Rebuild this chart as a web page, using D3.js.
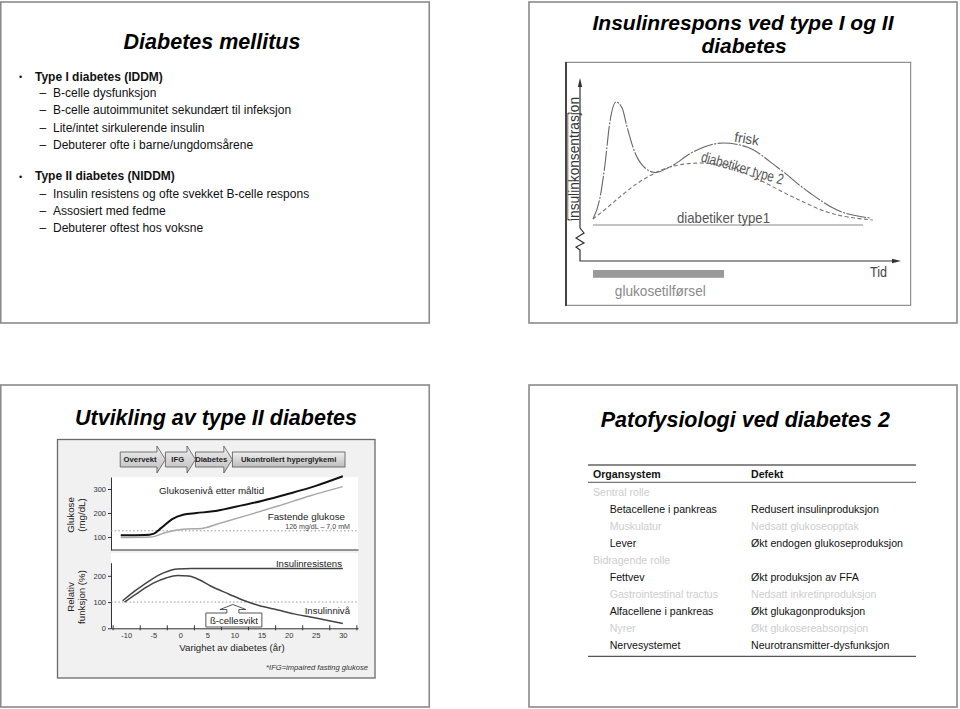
<!DOCTYPE html>
<html><head><meta charset="utf-8">
<script src="https://cdn.jsdelivr.net/npm/d3@7"></script>
<style>html,body{margin:0;padding:0;background:#fff;}svg{display:block;}</style>
</head><body>
<svg id="c" width="960" height="709"></svg>
<script>
// ---------- DATA ----------
// Slide 1
const slide1Title = "Diabetes mellitus";
const bulletHeads = ["Type I diabetes (IDDM)", "Type II diabetes (NIDDM)"];
const typeISub = ["B-celle dysfunksjon", "B-celle autoimmunitet sekundært til infeksjon", "Lite/intet sirkulerende insulin", "Debuterer ofte i barne/ungdomsårene"];
const typeIISub = ["Insulin resistens og ofte svekket B-celle respons", "Assosiert med fedme", "Debuterer oftest hos voksne"];

// Slide 2 (time 0-100, insulin concentration 0-100, arbitrary units)
const slide2Title = ["Insulinrespons ved type I og II", "diabetes"];
const friskCurve = [[0,8.1],[2.5,23.7],[4.3,48.1],[6.1,80.0],[8.3,94.8],[10.5,90.4],[12.3,76.3],[15.2,57.0],[18.8,45.9],[22.4,42.6],[27.8,46.7],[36.1,57.8],[46.9,64.4],[55.6,61.5],[66.4,46.7],[78.3,27.4],[88.1,14.8],[100,8.9]];
const type2Curve = [[0,8.1],[5.4,17.0],[10.5,25.9],[16.2,34.8],[22.4,42.2],[27.8,46.7],[38.6,49.6],[46.9,48.1],[57.8,39.3],[72.2,24.4],[84.5,13.3],[101,7.4]];
const type1Curve = [[0,3.7],[97.5,3.7]];
const glucoseInfusion = [0, 47.3];

// Slide 3
const slide3Title = "Utvikling av type II diabetes";
const stageLabels = ["Overvekt", "IFG", "Diabetes", "Ukontrollert hyperglykemi"];
const stageBounds = [-11.1, -2.75, 2.8, 9.6, 30.4];
const postMealGlucose = [[-11,107],[-6.5,108],[-5,113],[-3.5,138],[-1.5,175],[0.5,193],[3,200],[6,207],[10,225],[15,250],[20,280],[25,313],[30,353]];
const fastingGlucose = [[-11,98],[-5.5,100],[-2.5,120],[0.5,132],[4,136],[7,155],[12,188],[18,229],[24,272],[30,310]];
const fastingThreshold = 126;
const insulinResistance = [[-10.65,105],[-8,148],[-5.5,184],[-3,212],[-0.5,226],[2,227.5],[30,227.5]];
const insulinLevel = [[-10.3,100],[-7.5,140],[-5,172],[-2.5,193],[-0.5,201],[1.5,199],[3.5,185],[5.5,162],[9,130],[11.5,108],[14.5,87],[18,70],[21,55],[24,43],[27,31],[30,18]];
const functionRef = 100;
const betaFailureYear = 9.7;
const glucoseTicks = [100, 200, 300];
const functionTicks = [0, 100, 200];
const yearTicks = [-10, -5, 0, 5, 10, 15, 20, 25, 30];
const yearMinorTicks = [-12.5, -7.5, -2.5, 2.5, 7.5, 12.5, 17.5, 22.5, 27.5, 32.5];

// Slide 4
const slide4Title = "Patofysiologi ved diabetes 2";
const tableHeader = ["Organsystem", "Defekt"];
const organs = ["Sentral rolle", "Betacellene i pankreas", "Muskulatur", "Lever", "Bidragende rolle", "Fettvev", "Gastrointestinal tractus", "Alfacellene i pankreas", "Nyrer", "Nervesystemet"];
const defects = ["", "Redusert insulinproduksjon", "Nedsatt glukoseopptak", "Økt endogen glukoseproduksjon", "", "Økt produksjon av FFA", "Nedsatt inkretinproduksjon", "Økt glukagonproduksjon", "Økt glukosereabsorpsjon", "Neurotransmitter-dysfunksjon"];
const rowLevel = [0, 1, 1, 1, 0, 1, 1, 1, 1, 1];
const rowMuted = [true, false, true, false, true, false, true, false, true, false];

// ---------- DRAW ----------
const F = "'Liberation Sans', Arial, Helvetica, sans-serif";
const svg = d3.select("#c").style("font-family", F);

const defs = svg.append("defs");
const grad = defs.append("linearGradient").attr("id","bannerGrad").attr("x1",0).attr("y1",0).attr("x2",0).attr("y2",1);
grad.append("stop").attr("offset","0%").attr("stop-color","#f0f0f0");
grad.append("stop").attr("offset","100%").attr("stop-color","#bdbdbd");

// slide frames
const frames = [[0.75,2,428.5,321],[529,2,428,321],[0.75,385,428.5,322],[529,385,428,322]];
svg.selectAll("rect.frame").data(frames).join("rect").attr("class","frame")
  .attr("x",d=>d[0]).attr("y",d=>d[1]).attr("width",d=>d[2]).attr("height",d=>d[3])
  .attr("fill","#fff").attr("stroke","#8a8a8a").attr("stroke-width",1.6);

function title(x, y, txt, size){
  return svg.append("text").attr("x",x).attr("y",y).attr("text-anchor","middle")
    .attr("font-size",size||21.5).attr("font-weight","bold").attr("font-style","italic").attr("fill","#000").text(txt);
}

// ===== Slide 1 =====
title(212, 49.3, slide1Title);
const s1 = svg.append("g").attr("font-size",12).attr("fill","#111");
const headY = [80.7, 180.3];
const subLists = [typeISub, typeIISub];
const subY = [[97.3,114.3,131.7,149],[198,214.7,231.7]];
bulletHeads.forEach((h,i)=>{
  s1.append("text").attr("x",19).attr("y",headY[i]-0.5).attr("font-size",9).text("•");
  s1.append("text").attr("x",35).attr("y",headY[i]).attr("font-weight","bold").text(h);
  subLists[i].forEach((s,j)=>{
    s1.append("text").attr("x",39.5).attr("y",subY[i][j]).text("–");
    s1.append("text").attr("x",53).attr("y",subY[i][j]).text(s);
  });
});

// ===== Slide 2 =====
title(743, 29.5, slide2Title[0], 21);
title(744, 53.2, slide2Title[1], 21);

svg.append("rect").attr("x",566).attr("y",62.3).attr("width",344.7).attr("height",243)
  .attr("fill","#fff").attr("stroke","#777").attr("stroke-width",1);
svg.append("line").attr("x1",566).attr("x2",566).attr("y1",62).attr("y2",306).attr("stroke","#444").attr("stroke-width",2);

const x2 = d3.scaleLinear().domain([0,100]).range([593,870]);
const y2 = d3.scaleLinear().domain([0,100]).range([230,95]);
const g2 = svg.append("g");
// axes
g2.append("path").attr("d","M580,86 L580,228 L584,233 L576,238 L584,243 L576,247 L580,250 L580,261 L894,261")
  .attr("fill","none").attr("stroke","#333").attr("stroke-width",1.2);
g2.append("path").attr("d","M580,78 L577.8,87 L582.2,87 Z").attr("fill","#333");
g2.append("path").attr("d","M901,261 L892,258.8 L892,263.2 Z").attr("fill","#333");
// y label bracket
g2.append("path").attr("d","M572,113 L567.8,113 L567.8,220 L572,220").attr("fill","none").attr("stroke","#555").attr("stroke-width",0.9);
g2.append("text").attr("transform","translate(578.5,159) rotate(-90)").attr("text-anchor","middle")
  .attr("font-size",14.5).attr("fill","#333").attr("textLength",124).attr("lengthAdjust","spacingAndGlyphs").text("insulinkonsentrasjon");

const line2 = d3.line().x(d=>x2(d[0])).y(d=>y2(d[1])).curve(d3.curveMonotoneX);
g2.append("path").attr("d",line2(type1Curve)).attr("fill","none").attr("stroke","#888").attr("stroke-width",1);
g2.append("path").attr("d",line2(type2Curve)).attr("fill","none").attr("stroke","#777").attr("stroke-width",1.1).attr("stroke-dasharray","4,2.5");
g2.append("path").attr("d",line2(friskCurve)).attr("fill","none").attr("stroke","#666").attr("stroke-width",1.1).attr("stroke-dasharray","20,1.5,2,1.5");
// glucose infusion bar
g2.append("rect").attr("x",x2(glucoseInfusion[0])).attr("width",x2(glucoseInfusion[1])-x2(glucoseInfusion[0]))
  .attr("y",270).attr("height",7.8).attr("fill","#999");
g2.append("text").attr("x",660.3).attr("y",296).attr("text-anchor","middle").attr("font-size",14).attr("fill","#8a8a8a")
  .attr("textLength",91).attr("lengthAdjust","spacingAndGlyphs").text("glukosetilførsel");
g2.append("text").attr("x",878.5).attr("y",277).attr("text-anchor","middle").attr("font-size",14).attr("fill","#444")
  .attr("textLength",17).attr("lengthAdjust","spacingAndGlyphs").text("Tid");
g2.append("text").attr("x",723.5).attr("y",222.7).attr("text-anchor","middle").attr("font-size",15).attr("fill","#555")
  .attr("textLength",93).attr("lengthAdjust","spacingAndGlyphs").text("diabetiker type1");
g2.append("text").attr("transform","translate(746,143.5) rotate(9)").attr("text-anchor","middle").attr("font-size",14).attr("fill","#555")
  .attr("textLength",25).attr("lengthAdjust","spacingAndGlyphs").text("frisk");
g2.append("text").attr("transform","translate(741,173) rotate(16)").attr("text-anchor","middle").attr("font-size",15).attr("fill","#555")
  .attr("textLength",85).attr("lengthAdjust","spacingAndGlyphs").text("diabetiker type 2");

// ===== Slide 3 =====
title(216, 425, slide3Title);
svg.append("rect").attr("x",57.5).attr("y",439.5).attr("width",317.5).attr("height",238.5)
  .attr("fill","#f1f1f1").attr("stroke","#6a6a6a").attr("stroke-width",1.3);

const xS = d3.scaleLinear().domain([-12.8,32.8]).range([111,358]);
const yG = d3.scaleLinear().domain([46,350]).range([550,477]);
const yF = d3.scaleLinear().domain([0,250]).range([628.3,562.7]);
const g3 = svg.append("g");
g3.append("rect").attr("x",111).attr("y",477).attr("width",247).attr("height",72.5).attr("fill","#fff");
g3.append("rect").attr("x",111).attr("y",553).attr("width",247).attr("height",75.3).attr("fill","#fff");

// banner arrows
const bodyTop = 452, bodyBot = 467, headTop = 446, headBot = 473, head = 8.5;
stageLabels.forEach((lab,i)=>{
  const L = xS(stageBounds[i]), R = xS(stageBounds[i+1]);
  let d;
  if (i < stageLabels.length-1) {
    const br = R - head;
    d = `M${L},${bodyTop} L${br},${bodyTop} L${br},${headTop} L${R},${(bodyTop+bodyBot)/2} L${br},${headBot} L${br},${bodyBot} L${L},${bodyBot} Z`;
    g3.append("path").attr("d",d).attr("fill","url(#bannerGrad)").attr("stroke","#555").attr("stroke-width",0.8);
    g3.append("text").attr("x",(L+br)/2+1.5).attr("y",462.3).attr("text-anchor","middle").attr("font-size",7.7).attr("font-weight","bold").attr("fill","#222").text(lab);
  } else {
    g3.append("rect").attr("x",L).attr("y",bodyTop).attr("width",R-L).attr("height",bodyBot-bodyTop)
      .attr("fill","url(#bannerGrad)").attr("stroke","#555").attr("stroke-width",0.8);
    g3.append("text").attr("x",(L+R)/2).attr("y",462.3).attr("text-anchor","middle").attr("font-size",7.7).attr("font-weight","bold").attr("fill","#222").text(lab);
  }
});

function styleAxis(g){
  g.selectAll("path.domain").attr("stroke","#333");
  g.selectAll(".tick line").attr("stroke","#333");
  g.selectAll(".tick text").attr("font-size",7.5).attr("fill","#333").attr("font-family",F);
}
// top glucose axes
const ayG = g3.append("g").attr("transform","translate(111,0)")
  .call(d3.axisLeft(yG).tickValues(glucoseTicks).tickSize(3).tickSizeOuter(0).tickPadding(2));
styleAxis(ayG);
const axTop = g3.append("g").attr("transform","translate(0,549.5)").call(d3.axisBottom(xS).tickValues([]).tickSizeOuter(0));
styleAxis(axTop);
// bottom function axes
const ayF = g3.append("g").attr("transform","translate(111,0)")
  .call(d3.axisLeft(yF).tickValues(functionTicks).tickSize(3).tickSizeOuter(0).tickPadding(2));
styleAxis(ayF);
const axB = g3.append("g").attr("transform","translate(0,628.3)")
  .call(d3.axisBottom(xS).tickValues(yearMinorTicks).tickSizeInner(-3).tickSizeOuter(0).tickFormat(""));
styleAxis(axB);
axB.selectAll(".tick line").attr("y2",-3).attr("y1",2);
const axBL = g3.append("g").attr("transform","translate(0,628.3)")
  .call(d3.axisBottom(xS).tickValues(yearTicks).tickSize(0).tickPadding(4).tickFormat(d=>d));
styleAxis(axBL);
axBL.select("path.domain").remove();

// reference dotted lines
g3.append("line").attr("x1",111).attr("x2",357).attr("y1",yG(fastingThreshold)).attr("y2",yG(fastingThreshold))
  .attr("stroke","#8a8a8a").attr("stroke-width",0.9).attr("stroke-dasharray","1.5,2.2");
g3.append("line").attr("x1",111).attr("x2",357).attr("y1",yF(functionRef)).attr("y2",yF(functionRef))
  .attr("stroke","#8a8a8a").attr("stroke-width",0.9).attr("stroke-dasharray","1.5,2.2");

const lineG = d3.line().x(d=>xS(d[0])).y(d=>yG(d[1])).curve(d3.curveMonotoneX);
const lineF = d3.line().x(d=>xS(d[0])).y(d=>yF(d[1])).curve(d3.curveMonotoneX);
g3.append("path").attr("d",lineG(fastingGlucose)).attr("fill","none").attr("stroke","#a8a8a8").attr("stroke-width",1.5);
g3.append("path").attr("d",lineG(postMealGlucose)).attr("fill","none").attr("stroke","#111").attr("stroke-width",2);
g3.append("path").attr("d",lineF(insulinResistance)).attr("fill","none").attr("stroke","#444").attr("stroke-width",1.5);
g3.append("path").attr("d",lineF(insulinLevel)).attr("fill","none").attr("stroke","#444").attr("stroke-width",1.5);

// labels
const lab3 = (x,y,t,size,anchor)=>
  g3.append("text").attr("x",x).attr("y",y).attr("font-size",size).attr("text-anchor",anchor||"start").attr("fill","#222").text(t);
lab3(159,494,"Glukosenivå etter måltid",9.8);
lab3(345,520,"Fastende glukose",9.8,"end");
lab3(350,529.3,"126  mg/dL – 7,0 mM",7.1,"end").attr("fill","#444");
lab3(342,566.7,"Insulinresistens",9.6,"end");
lab3(350,614.3,"Insulinnivå",9.6,"end");
lab3(232,651,"Varighet av diabetes (år)",9.7,"middle");
lab3(368,670,"*IFG=impaired fasting glukose",7.6,"end").attr("font-style","italic").attr("fill","#333");

// rotated y titles
const rot = (x,y,t)=> g3.append("text").attr("transform",`translate(${x},${y}) rotate(-90)`).attr("text-anchor","middle").attr("font-size",9.7).attr("fill","#222").text(t);
rot(73.5,515,"Glukose"); rot(84.5,515,"(mg/dL)");
rot(73.5,597,"Relativ"); rot(84.5,597,"funksjon (%)");

// beta-cell failure callout
const tx = xS(betaFailureYear);
const cp = `M${tx-27},613 L${tx-6},613 L${tx-6},609.5 L${tx-13},609.5 L${tx},604.5 L${tx+13},609.5 L${tx+6},609.5 L${tx+6},613 L${tx+29},613 L${tx+29},627 L${tx-27},627 Z`;
g3.append("path").attr("d",cp).attr("fill","#fff").attr("stroke","#444").attr("stroke-width",0.9);
lab3(tx+1,623.5,"ß-cellesvikt",9.6,"middle");

// ===== Slide 4 =====
title(745.3, 426.7, slide4Title);
const g4 = svg.append("g").attr("font-size",10.6);
g4.append("line").attr("x1",588).attr("x2",916).attr("y1",465).attr("y2",465).attr("stroke","#8a8a8a").attr("stroke-width",2);
g4.append("line").attr("x1",588).attr("x2",916).attr("y1",482.3).attr("y2",482.3).attr("stroke","#555").attr("stroke-width",1);
g4.append("line").attr("x1",588).attr("x2",916).attr("y1",656.3).attr("y2",656.3).attr("stroke","#555").attr("stroke-width",1.3);
g4.append("text").attr("x",593).attr("y",478).attr("font-weight","bold").attr("fill","#111").text(tableHeader[0]);
g4.append("text").attr("x",751).attr("y",478).attr("font-weight","bold").attr("fill","#111").text(tableHeader[1]);
const rowY = d3.scaleLinear().domain([0, organs.length-1]).range([495.7, 649]);
organs.forEach((o,i)=>{
  const col = rowMuted[i] ? "#cdcdcd" : "#111";
  g4.append("text").attr("x", rowLevel[i] ? 609.7 : 593).attr("y",rowY(i)).attr("fill",col).text(o);
  if (defects[i]) g4.append("text").attr("x",751).attr("y",rowY(i)).attr("fill",col).text(defects[i]);
});
</script>
</body></html>
